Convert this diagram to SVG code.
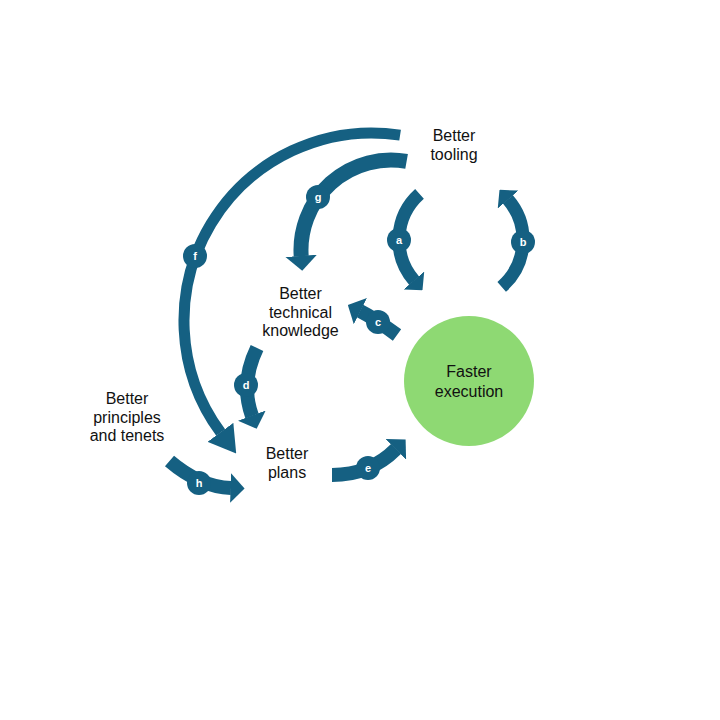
<svg xmlns="http://www.w3.org/2000/svg" width="720" height="720" viewBox="0 0 720 720">
  <style>
    .node { font-family: "Liberation Sans", Arial, sans-serif; font-size: 16px; fill: #111; text-anchor: middle; }
    .arrow { fill: none; stroke: #156082; stroke-linecap: butt; }
    .badge { fill: #156082; }
    .badge-text { font-family: "Liberation Sans", Arial, sans-serif; font-size: 11px; font-weight: 700; fill: #ffffff; text-anchor: middle; }
  </style>
  <defs>
    <marker id="head" viewBox="0 -1.05 1 2.1" markerWidth="1" markerHeight="2.1" refX="0.03" refY="0" orient="auto" markerUnits="strokeWidth">
      <path d="M0,-1.05 L1,0 L0,1.05 z" fill="#156082"/>
    </marker>
    <marker id="headLong" viewBox="0 -1.45 2.4 2.9" markerWidth="2.4" markerHeight="2.9" refX="0.03" refY="0" orient="auto" markerUnits="strokeWidth">
      <path d="M0,-1.45 L2.4,0 L0,1.45 z" fill="#156082"/>
    </marker>
  </defs>
  <rect width="720" height="720" fill="#ffffff"/>

  <g id="connectors">
    <g id="arrow-f">
      <path class="arrow" stroke-width="11" marker-end="url(#headLong)" d="M400.1,135.1 A188,188 0 0 0 220.7,432.6"/>
      <circle class="badge" cx="195" cy="256" r="12"/>
      <text class="badge-text" x="195" y="260">f</text>
    </g>
    <g id="arrow-g">
      <path class="arrow" stroke-width="15" marker-end="url(#head)" d="M406.6,161.4 A90,90 0 0 0 301.2,256.3"/>
      <circle class="badge" cx="318" cy="197" r="12"/>
      <text class="badge-text" x="318" y="201">g</text>
    </g>
    <g id="arrow-a">
      <path class="arrow" stroke-width="13" marker-end="url(#head)" d="M419.5,193.9 A62,62 0 0 0 414.2,280.7"/>
      <circle class="badge" cx="399" cy="240" r="12"/>
      <text class="badge-text" x="399" y="244">a</text>
    </g>
    <g id="arrow-b">
      <path class="arrow" stroke-width="13" marker-end="url(#head)" d="M501.7,286.8 A62,62 0 0 0 507.8,199.3"/>
      <circle class="badge" cx="523" cy="242" r="12"/>
      <text class="badge-text" x="523" y="246">b</text>
    </g>
    <g id="arrow-c">
      <path class="arrow" stroke-width="14" marker-end="url(#head)" d="M397,335 Q374,318 360,311"/>
      <circle class="badge" cx="378" cy="322" r="12"/>
      <text class="badge-text" x="378" y="326">c</text>
    </g>
    <g id="arrow-d">
      <path class="arrow" stroke-width="14" marker-end="url(#head)" d="M257,348 Q240,383 252,416"/>
      <circle class="badge" cx="246" cy="385" r="12"/>
      <text class="badge-text" x="246" y="389">d</text>
    </g>
    <g id="arrow-e">
      <path class="arrow" stroke-width="14" marker-end="url(#head)" d="M332,475 C360,475 380,465 396,449"/>
      <circle class="badge" cx="368" cy="468" r="12"/>
      <text class="badge-text" x="368" y="472">e</text>
    </g>
    <g id="arrow-h">
      <path class="arrow" stroke-width="14" marker-end="url(#head)" d="M169.5,461 Q200,487 231,488"/>
      <circle class="badge" cx="199" cy="483" r="12"/>
      <text class="badge-text" x="199" y="487">h</text>
    </g>
  </g>

  <g id="node-tooling">
    <text class="node" x="454" y="141">Better</text>
    <text class="node" x="454" y="160">tooling</text>
  </g>
  <g id="node-knowledge">
    <text class="node" x="300.5" y="299.3">Better</text>
    <text class="node" x="300.5" y="317.8">technical</text>
    <text class="node" x="300.5" y="336.3">knowledge</text>
  </g>
  <g id="node-principles">
    <text class="node" x="127" y="404">Better</text>
    <text class="node" x="127" y="422.5">principles</text>
    <text class="node" x="127" y="441">and tenets</text>
  </g>
  <g id="node-plans">
    <text class="node" x="287" y="459">Better</text>
    <text class="node" x="287" y="477.5">plans</text>
  </g>
  <g id="node-execution">
    <circle cx="469" cy="381" r="65" fill="#8ED973"/>
    <text class="node" x="469" y="376.7">Faster</text>
    <text class="node" x="469" y="396.7">execution</text>
  </g>
</svg>
